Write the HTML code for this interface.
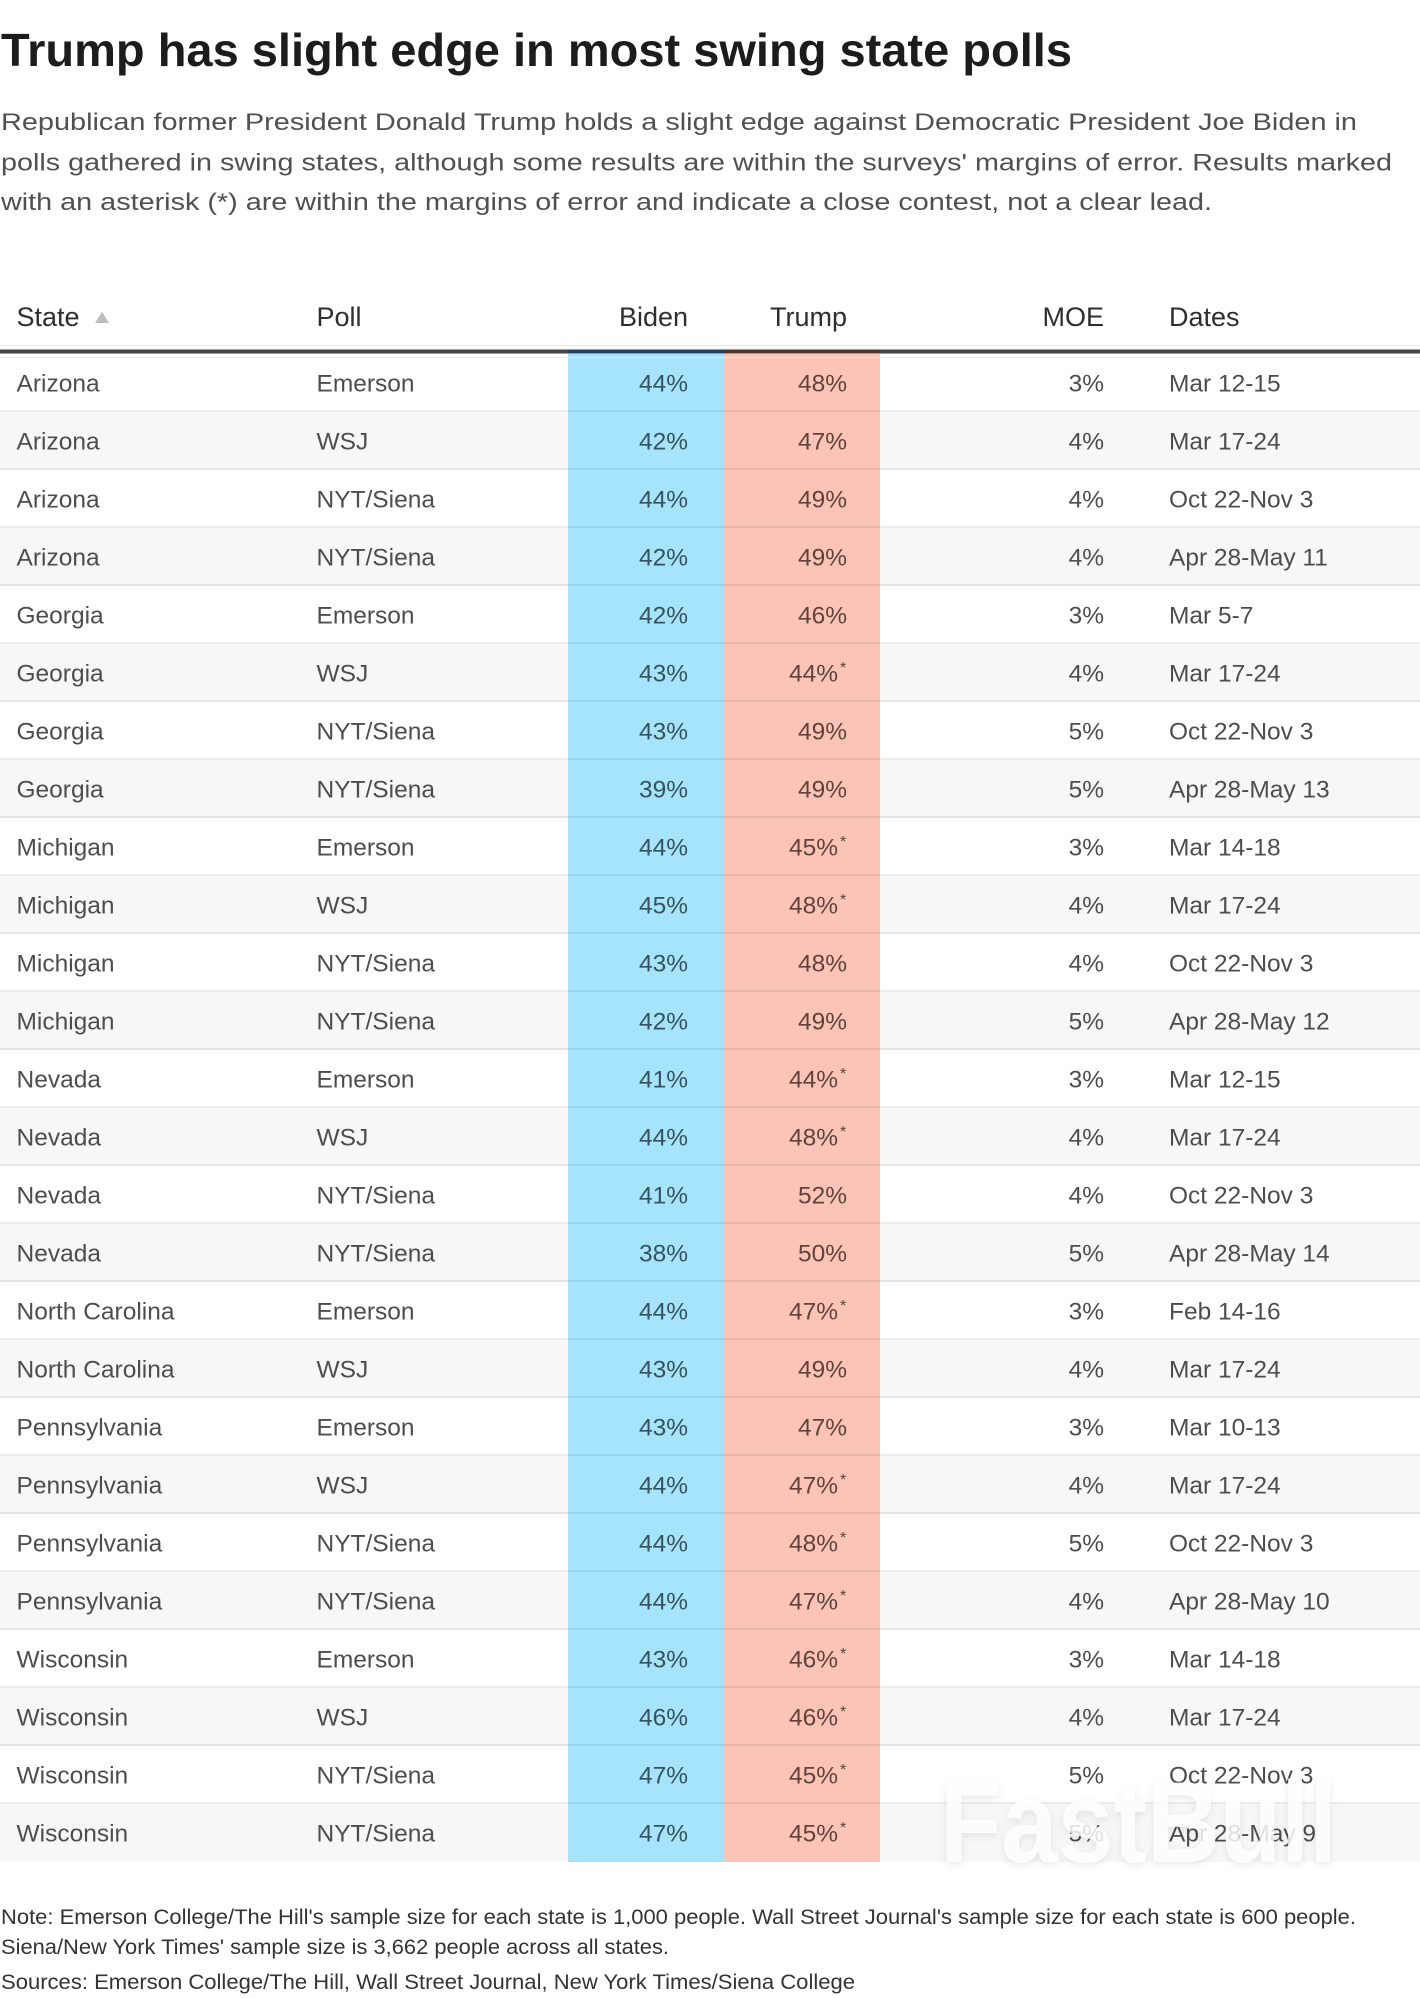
<!DOCTYPE html>
<html>
<head>
<meta charset="utf-8">
<style>
  html, body { margin:0; padding:0; background:#fff; }
  svg { display:block; }
  text { font-family: "Liberation Sans", sans-serif; }
  .t { font-size:46.5px; font-weight:bold; fill:#1c1c1c; }
  .d { font-size:24.5px; fill:#505050; }
  .h { font-size:27px; fill:#2e2e2e; }
  .c { font-size:24.5px; fill:#4d4d4d; }
  .nb { font-size:24.5px; fill:#35535f; text-anchor:end; }
  .nt { font-size:24.5px; fill:#62433b; text-anchor:end; }
  .ast { font-size:16px; fill:#62433b; }
  .m { font-size:24.5px; fill:#4d4d4d; text-anchor:end; }
  .f { font-size:21px; fill:#333; }
</style>
</head>
<body>
<svg width="1420" height="1998" viewBox="0 0 1420 1998" xmlns="http://www.w3.org/2000/svg">
  <defs>
    <filter id="sh" x="-10%" y="-20%" width="120%" height="150%">
      <feDropShadow dx="0" dy="3" stdDeviation="4" flood-color="#000" flood-opacity="0.10"/>
    </filter>
  </defs>
  <rect width="1420" height="1998" fill="#fff"/>

  <!-- Title -->
  <text class="t" x="1" y="66" textLength="1071" lengthAdjust="spacingAndGlyphs">Trump has slight edge in most swing state polls</text>

  <!-- Description -->
  <text class="d" x="1" y="130" textLength="1356" lengthAdjust="spacingAndGlyphs">Republican former President Donald Trump holds a slight edge against Democratic President Joe Biden in</text>
  <text class="d" x="1" y="170.5" textLength="1391" lengthAdjust="spacingAndGlyphs">polls gathered in swing states, although some results are within the surveys' margins of error. Results marked</text>
  <text class="d" x="1" y="210" textLength="1211" lengthAdjust="spacingAndGlyphs">with an asterisk (*) are within the margins of error and indicate a close contest, not a clear lead.</text>

  <!-- Header -->
  <text class="h" x="16.5" y="326">State</text>
  <polygon points="95,323 109,323 102,312" fill="#bdbdbd"/>
  <text class="h" x="316.5" y="326">Poll</text>
  <text class="h" x="688" y="326" text-anchor="end">Biden</text>
  <text class="h" x="847" y="326" text-anchor="end">Trump</text>
  <text class="h" x="1104" y="326" text-anchor="end">MOE</text>
  <text class="h" x="1169" y="326">Dates</text>

  <!-- Row backgrounds -->
  <g fill="#f7f7f7">
    <rect x="0" y="412" width="1420" height="58"/>
    <rect x="0" y="528" width="1420" height="58"/>
    <rect x="0" y="644" width="1420" height="58"/>
    <rect x="0" y="760" width="1420" height="58"/>
    <rect x="0" y="876" width="1420" height="58"/>
    <rect x="0" y="992" width="1420" height="58"/>
    <rect x="0" y="1108" width="1420" height="58"/>
    <rect x="0" y="1224" width="1420" height="58"/>
    <rect x="0" y="1340" width="1420" height="58"/>
    <rect x="0" y="1456" width="1420" height="58"/>
    <rect x="0" y="1572" width="1420" height="58"/>
    <rect x="0" y="1688" width="1420" height="58"/>
    <rect x="0" y="1804" width="1420" height="58"/>
  </g>

  <!-- Column backgrounds -->
  <rect x="568" y="354" width="155.5" height="1508" fill="#a6e4fb"/>
  <rect x="723.5" y="354" width="156.5" height="1508" fill="#fbc4b7"/>

  <!-- Row separators -->
  <g fill="#000" fill-opacity="0.075">
    <rect x="0" y="410" width="1420" height="2"/>
    <rect x="0" y="468" width="1420" height="2"/>
    <rect x="0" y="526" width="1420" height="2"/>
    <rect x="0" y="584" width="1420" height="2"/>
    <rect x="0" y="642" width="1420" height="2"/>
    <rect x="0" y="700" width="1420" height="2"/>
    <rect x="0" y="758" width="1420" height="2"/>
    <rect x="0" y="816" width="1420" height="2"/>
    <rect x="0" y="874" width="1420" height="2"/>
    <rect x="0" y="932" width="1420" height="2"/>
    <rect x="0" y="990" width="1420" height="2"/>
    <rect x="0" y="1048" width="1420" height="2"/>
    <rect x="0" y="1106" width="1420" height="2"/>
    <rect x="0" y="1164" width="1420" height="2"/>
    <rect x="0" y="1222" width="1420" height="2"/>
    <rect x="0" y="1280" width="1420" height="2"/>
    <rect x="0" y="1338" width="1420" height="2"/>
    <rect x="0" y="1396" width="1420" height="2"/>
    <rect x="0" y="1454" width="1420" height="2"/>
    <rect x="0" y="1512" width="1420" height="2"/>
    <rect x="0" y="1570" width="1420" height="2"/>
    <rect x="0" y="1628" width="1420" height="2"/>
    <rect x="0" y="1686" width="1420" height="2"/>
    <rect x="0" y="1744" width="1420" height="2"/>
    <rect x="0" y="1802" width="1420" height="2"/>
  </g>

  <!-- Header rules -->
  <rect x="0" y="345" width="1420" height="1" fill="#e6e6e6"/>
  <rect x="0" y="349.5" width="1420" height="4" fill="#454545"/>
  <rect x="568" y="349.5" width="155.5" height="4" fill="#24405e"/>
  <rect x="723.5" y="349.5" width="156.5" height="4" fill="#4e3529"/>
  <rect x="0" y="357" width="1420" height="1" fill="#ececec"/>

  <!-- Rows: baseline = top + 37.7 -->
  <!-- 1 -->
  <text class="c" x="16.5" y="391.7">Arizona</text><text class="c" x="316.5" y="391.7">Emerson</text>
  <text class="nb" x="688" y="391.7">44%</text><text class="nt" x="847" y="391.7">48%</text>
  <text class="m" x="1104" y="391.7">3%</text><text class="c" x="1169" y="391.7">Mar 12-15</text>
  <!-- 2 -->
  <text class="c" x="16.5" y="449.7">Arizona</text><text class="c" x="316.5" y="449.7">WSJ</text>
  <text class="nb" x="688" y="449.7">42%</text><text class="nt" x="847" y="449.7">47%</text>
  <text class="m" x="1104" y="449.7">4%</text><text class="c" x="1169" y="449.7">Mar 17-24</text>
  <!-- 3 -->
  <text class="c" x="16.5" y="507.7">Arizona</text><text class="c" x="316.5" y="507.7">NYT/Siena</text>
  <text class="nb" x="688" y="507.7">44%</text><text class="nt" x="847" y="507.7">49%</text>
  <text class="m" x="1104" y="507.7">4%</text><text class="c" x="1169" y="507.7">Oct 22-Nov 3</text>
  <!-- 4 -->
  <text class="c" x="16.5" y="565.7">Arizona</text><text class="c" x="316.5" y="565.7">NYT/Siena</text>
  <text class="nb" x="688" y="565.7">42%</text><text class="nt" x="847" y="565.7">49%</text>
  <text class="m" x="1104" y="565.7">4%</text><text class="c" x="1169" y="565.7">Apr 28-May 11</text>
  <!-- 5 -->
  <text class="c" x="16.5" y="623.7">Georgia</text><text class="c" x="316.5" y="623.7">Emerson</text>
  <text class="nb" x="688" y="623.7">42%</text><text class="nt" x="847" y="623.7">46%</text>
  <text class="m" x="1104" y="623.7">3%</text><text class="c" x="1169" y="623.7">Mar 5-7</text>
  <!-- 6 -->
  <text class="c" x="16.5" y="681.7">Georgia</text><text class="c" x="316.5" y="681.7">WSJ</text>
  <text class="nb" x="688" y="681.7">43%</text><text class="nt" x="838" y="681.7">44%</text><text class="ast" x="840" y="673">*</text>
  <text class="m" x="1104" y="681.7">4%</text><text class="c" x="1169" y="681.7">Mar 17-24</text>
  <!-- 7 -->
  <text class="c" x="16.5" y="739.7">Georgia</text><text class="c" x="316.5" y="739.7">NYT/Siena</text>
  <text class="nb" x="688" y="739.7">43%</text><text class="nt" x="847" y="739.7">49%</text>
  <text class="m" x="1104" y="739.7">5%</text><text class="c" x="1169" y="739.7">Oct 22-Nov 3</text>
  <!-- 8 -->
  <text class="c" x="16.5" y="797.7">Georgia</text><text class="c" x="316.5" y="797.7">NYT/Siena</text>
  <text class="nb" x="688" y="797.7">39%</text><text class="nt" x="847" y="797.7">49%</text>
  <text class="m" x="1104" y="797.7">5%</text><text class="c" x="1169" y="797.7">Apr 28-May 13</text>
  <!-- 9 -->
  <text class="c" x="16.5" y="855.7">Michigan</text><text class="c" x="316.5" y="855.7">Emerson</text>
  <text class="nb" x="688" y="855.7">44%</text><text class="nt" x="838" y="855.7">45%</text><text class="ast" x="840" y="847">*</text>
  <text class="m" x="1104" y="855.7">3%</text><text class="c" x="1169" y="855.7">Mar 14-18</text>
  <!-- 10 -->
  <text class="c" x="16.5" y="913.7">Michigan</text><text class="c" x="316.5" y="913.7">WSJ</text>
  <text class="nb" x="688" y="913.7">45%</text><text class="nt" x="838" y="913.7">48%</text><text class="ast" x="840" y="905">*</text>
  <text class="m" x="1104" y="913.7">4%</text><text class="c" x="1169" y="913.7">Mar 17-24</text>
  <!-- 11 -->
  <text class="c" x="16.5" y="971.7">Michigan</text><text class="c" x="316.5" y="971.7">NYT/Siena</text>
  <text class="nb" x="688" y="971.7">43%</text><text class="nt" x="847" y="971.7">48%</text>
  <text class="m" x="1104" y="971.7">4%</text><text class="c" x="1169" y="971.7">Oct 22-Nov 3</text>
  <!-- 12 -->
  <text class="c" x="16.5" y="1029.7">Michigan</text><text class="c" x="316.5" y="1029.7">NYT/Siena</text>
  <text class="nb" x="688" y="1029.7">42%</text><text class="nt" x="847" y="1029.7">49%</text>
  <text class="m" x="1104" y="1029.7">5%</text><text class="c" x="1169" y="1029.7">Apr 28-May 12</text>
  <!-- 13 -->
  <text class="c" x="16.5" y="1087.7">Nevada</text><text class="c" x="316.5" y="1087.7">Emerson</text>
  <text class="nb" x="688" y="1087.7">41%</text><text class="nt" x="838" y="1087.7">44%</text><text class="ast" x="840" y="1079">*</text>
  <text class="m" x="1104" y="1087.7">3%</text><text class="c" x="1169" y="1087.7">Mar 12-15</text>
  <!-- 14 -->
  <text class="c" x="16.5" y="1145.7">Nevada</text><text class="c" x="316.5" y="1145.7">WSJ</text>
  <text class="nb" x="688" y="1145.7">44%</text><text class="nt" x="838" y="1145.7">48%</text><text class="ast" x="840" y="1137">*</text>
  <text class="m" x="1104" y="1145.7">4%</text><text class="c" x="1169" y="1145.7">Mar 17-24</text>
  <!-- 15 -->
  <text class="c" x="16.5" y="1203.7">Nevada</text><text class="c" x="316.5" y="1203.7">NYT/Siena</text>
  <text class="nb" x="688" y="1203.7">41%</text><text class="nt" x="847" y="1203.7">52%</text>
  <text class="m" x="1104" y="1203.7">4%</text><text class="c" x="1169" y="1203.7">Oct 22-Nov 3</text>
  <!-- 16 -->
  <text class="c" x="16.5" y="1261.7">Nevada</text><text class="c" x="316.5" y="1261.7">NYT/Siena</text>
  <text class="nb" x="688" y="1261.7">38%</text><text class="nt" x="847" y="1261.7">50%</text>
  <text class="m" x="1104" y="1261.7">5%</text><text class="c" x="1169" y="1261.7">Apr 28-May 14</text>
  <!-- 17 -->
  <text class="c" x="16.5" y="1319.7">North Carolina</text><text class="c" x="316.5" y="1319.7">Emerson</text>
  <text class="nb" x="688" y="1319.7">44%</text><text class="nt" x="838" y="1319.7">47%</text><text class="ast" x="840" y="1311">*</text>
  <text class="m" x="1104" y="1319.7">3%</text><text class="c" x="1169" y="1319.7">Feb 14-16</text>
  <!-- 18 -->
  <text class="c" x="16.5" y="1377.7">North Carolina</text><text class="c" x="316.5" y="1377.7">WSJ</text>
  <text class="nb" x="688" y="1377.7">43%</text><text class="nt" x="847" y="1377.7">49%</text>
  <text class="m" x="1104" y="1377.7">4%</text><text class="c" x="1169" y="1377.7">Mar 17-24</text>
  <!-- 19 -->
  <text class="c" x="16.5" y="1435.7">Pennsylvania</text><text class="c" x="316.5" y="1435.7">Emerson</text>
  <text class="nb" x="688" y="1435.7">43%</text><text class="nt" x="847" y="1435.7">47%</text>
  <text class="m" x="1104" y="1435.7">3%</text><text class="c" x="1169" y="1435.7">Mar 10-13</text>
  <!-- 20 -->
  <text class="c" x="16.5" y="1493.7">Pennsylvania</text><text class="c" x="316.5" y="1493.7">WSJ</text>
  <text class="nb" x="688" y="1493.7">44%</text><text class="nt" x="838" y="1493.7">47%</text><text class="ast" x="840" y="1485">*</text>
  <text class="m" x="1104" y="1493.7">4%</text><text class="c" x="1169" y="1493.7">Mar 17-24</text>
  <!-- 21 -->
  <text class="c" x="16.5" y="1551.7">Pennsylvania</text><text class="c" x="316.5" y="1551.7">NYT/Siena</text>
  <text class="nb" x="688" y="1551.7">44%</text><text class="nt" x="838" y="1551.7">48%</text><text class="ast" x="840" y="1543">*</text>
  <text class="m" x="1104" y="1551.7">5%</text><text class="c" x="1169" y="1551.7">Oct 22-Nov 3</text>
  <!-- 22 -->
  <text class="c" x="16.5" y="1609.7">Pennsylvania</text><text class="c" x="316.5" y="1609.7">NYT/Siena</text>
  <text class="nb" x="688" y="1609.7">44%</text><text class="nt" x="838" y="1609.7">47%</text><text class="ast" x="840" y="1601">*</text>
  <text class="m" x="1104" y="1609.7">4%</text><text class="c" x="1169" y="1609.7">Apr 28-May 10</text>
  <!-- 23 -->
  <text class="c" x="16.5" y="1667.7">Wisconsin</text><text class="c" x="316.5" y="1667.7">Emerson</text>
  <text class="nb" x="688" y="1667.7">43%</text><text class="nt" x="838" y="1667.7">46%</text><text class="ast" x="840" y="1659">*</text>
  <text class="m" x="1104" y="1667.7">3%</text><text class="c" x="1169" y="1667.7">Mar 14-18</text>
  <!-- 24 -->
  <text class="c" x="16.5" y="1725.7">Wisconsin</text><text class="c" x="316.5" y="1725.7">WSJ</text>
  <text class="nb" x="688" y="1725.7">46%</text><text class="nt" x="838" y="1725.7">46%</text><text class="ast" x="840" y="1717">*</text>
  <text class="m" x="1104" y="1725.7">4%</text><text class="c" x="1169" y="1725.7">Mar 17-24</text>
  <!-- 25 -->
  <text class="c" x="16.5" y="1783.7">Wisconsin</text><text class="c" x="316.5" y="1783.7">NYT/Siena</text>
  <text class="nb" x="688" y="1783.7">47%</text><text class="nt" x="838" y="1783.7">45%</text><text class="ast" x="840" y="1775">*</text>
  <text class="m" x="1104" y="1783.7">5%</text><text class="c" x="1169" y="1783.7">Oct 22-Nov 3</text>
  <!-- 26 -->
  <text class="c" x="16.5" y="1841.7">Wisconsin</text><text class="c" x="316.5" y="1841.7">NYT/Siena</text>
  <text class="nb" x="688" y="1841.7">47%</text><text class="nt" x="838" y="1841.7">45%</text><text class="ast" x="840" y="1833">*</text>
  <text class="m" x="1104" y="1841.7">5%</text><text class="c" x="1169" y="1841.7">Apr 28-May 9</text>

  <!-- Watermark -->
  <text x="940" y="1862" font-size="115" font-weight="bold" fill="#ffffff" fill-opacity="0.82" textLength="397" lengthAdjust="spacingAndGlyphs" filter="url(#sh)">FastBull</text>

  <!-- Footer -->
  <text class="f" x="1" y="1924" textLength="1355" lengthAdjust="spacingAndGlyphs">Note: Emerson College/The Hill's sample size for each state is 1,000 people. Wall Street Journal's sample size for each state is 600 people.</text>
  <text class="f" x="1" y="1954" textLength="668" lengthAdjust="spacingAndGlyphs">Siena/New York Times' sample size is 3,662 people across all states.</text>
  <text class="f" x="1" y="1989" textLength="854" lengthAdjust="spacingAndGlyphs">Sources: Emerson College/The Hill, Wall Street Journal, New York Times/Siena College</text>
</svg>
</body>
</html>
